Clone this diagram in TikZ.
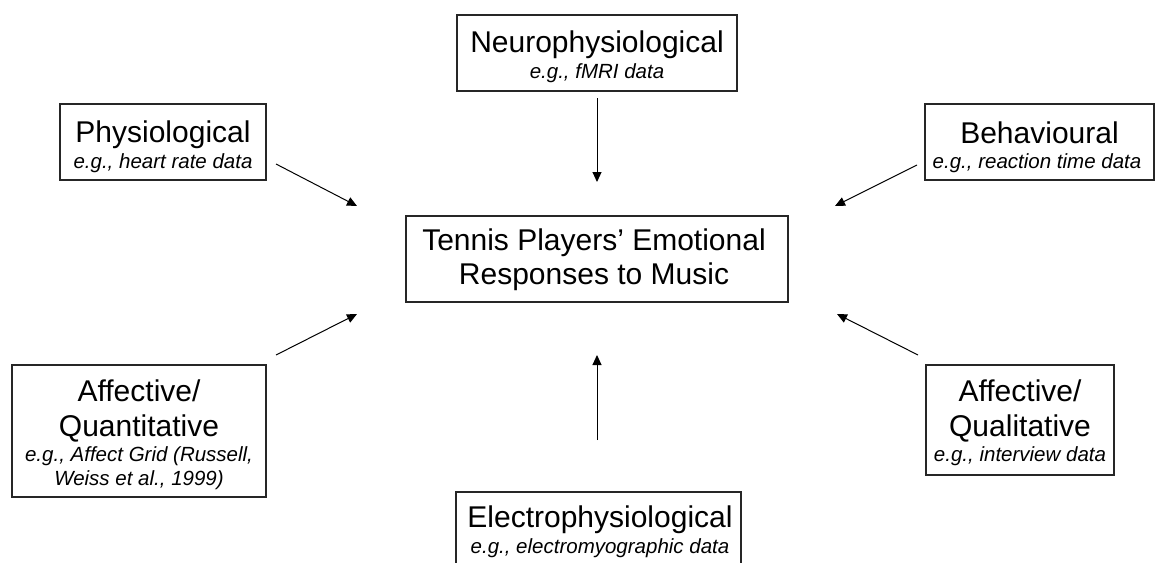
\documentclass[tikz,border=0pt]{standalone}
\usepackage{fontspec}
\setmainfont{Liberation Sans}
\usetikzlibrary{arrows.meta}
\begin{document}
\begin{tikzpicture}[x=1pt,y=-1pt,
  frame/.style={draw=black!85, line width=1.1pt, rectangle, inner sep=0pt, outer sep=0pt},
  head/.style={font=\fontsize{30}{34}\selectfont, anchor=base, inner sep=0pt},
  note/.style={font=\fontsize{20.5}{24}\selectfont\itshape, anchor=base, inner sep=0pt},
  link/.style={line width=1pt, black, -{Triangle[length=10pt,width=9pt]}}]
\useasboundingbox (0,0) rectangle (1155,562);
\clip (0,0) rectangle (1155,562);

% frames
\node[frame, minimum width=280pt, minimum height=76pt] (neuro) at (597,53) {};
\node[frame, minimum width=206pt, minimum height=76pt] (phys) at (163,142) {};
\node[frame, minimum width=229pt, minimum height=76pt] (behav) at (1039.5,142) {};
\node[frame, minimum width=382pt, minimum height=86pt] (core) at (597,259) {};
\node[frame, minimum width=254pt, minimum height=132pt] (quant) at (139,431) {};
\node[frame, minimum width=188pt, minimum height=110pt] (qual) at (1020,420) {};
\node[frame, minimum width=285pt, minimum height=108pt] (electro) at (598.5,546) {};

% labels
\node[head] (neuroA) at (597,52) {Neurophysiological};
\node[note] (neuroB) at (597,78) {e.g., fMRI data};

\node[head] (physA) at (163,142) {Physiological};
\node[note] (physB) at (163,168) {e.g., heart rate data};

\node[head] (behavA) at (1039.5,143) {Behavioural};
\node[note] (behavB) at (1037,168) {e.g., reaction time data};

\node[head] (coreA) at (594,250) {Tennis Players’ Emotional};
\node[head] (coreB) at (594,284) {Responses to Music};

\node[head] (quantA) at (139,401) {Affective/};
\node[head] (quantB) at (139,436) {Quantitative};
\node[note] (quantC) at (139,461) {e.g., Affect Grid (Russell,};
\node[note] (quantD) at (139,485) {Weiss et al., 1999)};

\node[head] (qualA) at (1020,401) {Affective/};
\node[head] (qualB) at (1020,436) {Qualitative};
\node[note] (qualC) at (1020,461) {e.g., interview data};

\node[head] (electroA) at (600,527) {Electrophysiological};
\node[note] (electroB) at (600,553) {e.g., electromyographic data};

% arrow ends
\coordinate (n0) at (597,98);   \coordinate (n1) at (597,182);
\coordinate (p0) at (276,164);  \coordinate (p1) at (357,206);
\coordinate (b0) at (917,165);  \coordinate (b1) at (835,206);
\coordinate (q0) at (276,355);  \coordinate (q1) at (357,314);
\coordinate (l0) at (918,355);  \coordinate (l1) at (837,314);
\coordinate (e0) at (597,440);  \coordinate (e1) at (597,355);

\draw[link] (n0) -- (n1);
\draw[link] (p0) -- (p1);
\draw[link] (b0) -- (b1);
\draw[link] (q0) -- (q1);
\draw[link] (l0) -- (l1);
\draw[link] (e0) -- (e1);
\end{tikzpicture}
\end{document}
